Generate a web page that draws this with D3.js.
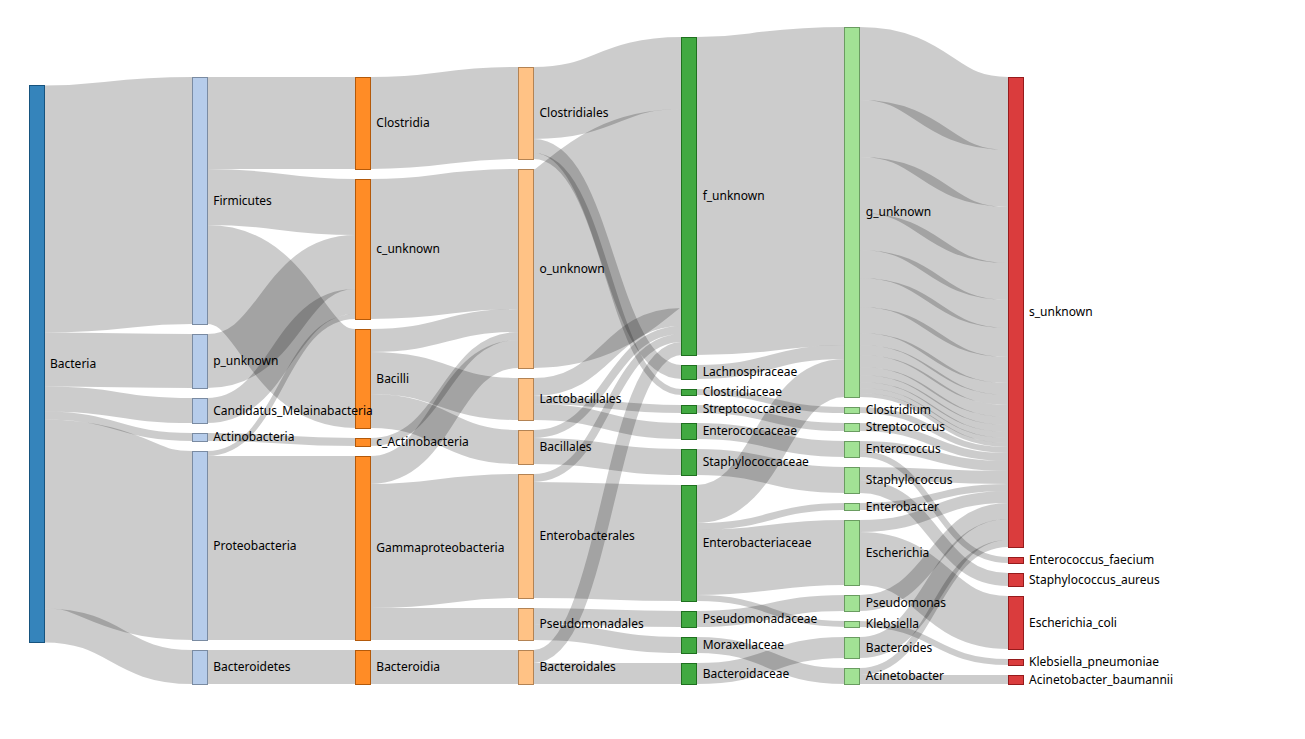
<!DOCTYPE html>
<html>
<head>
<meta charset="utf-8">
<script src="https://cdn.jsdelivr.net/npm/d3@7"></script>
<style>
  body { margin: 0; background: #fff; }
  .link { fill: none; stroke: #000; stroke-opacity: .2; }
  .node rect { fill-opacity: .9; shape-rendering: crispEdges; }
  .label { font: 12px "Noto Sans", sans-serif; fill: #000; }
</style>
</head>
<body>
<svg id="sankey" width="1305" height="739"></svg>
<script>
// taxonomy levels, top to bottom as drawn
const kingdoms = ["Bacteria"];
const phyla = ["Firmicutes", "p_unknown", "Candidatus_Melainabacteria", "Actinobacteria", "Proteobacteria", "Bacteroidetes"];
const classes = ["Clostridia", "c_unknown", "Bacilli", "c_Actinobacteria", "Gammaproteobacteria", "Bacteroidia"];
const orders = ["Clostridiales", "o_unknown", "Lactobacillales", "Bacillales", "Enterobacterales", "Pseudomonadales", "Bacteroidales"];
const families = ["f_unknown", "Lachnospiraceae", "Clostridiaceae", "Streptococcaceae", "Enterococcaceae", "Staphylococcaceae",
                  "Enterobacteriaceae", "Pseudomonadaceae", "Moraxellaceae", "Bacteroidaceae"];
const genera = ["g_unknown", "Clostridium", "Streptococcus", "Enterococcus", "Staphylococcus", "Enterobacter",
                "Escherichia", "Pseudomonas", "Klebsiella", "Bacteroides", "Acinetobacter"];
const species = ["s_unknown", "Enterococcus_faecium", "Staphylococcus_aureus", "Escherichia_coli",
                 "Klebsiella_pneumoniae", "Acinetobacter_baumannii"];

// flows [source, target, value]
const kingdomToPhylum = [
  ["Bacteria", "Firmicutes", 247], ["Bacteria", "p_unknown", 54], ["Bacteria", "Candidatus_Melainabacteria", 25],
  ["Bacteria", "Actinobacteria", 8], ["Bacteria", "Proteobacteria", 189], ["Bacteria", "Bacteroidetes", 34]
];
const phylumToClass = [
  ["Firmicutes", "Clostridia", 92], ["Firmicutes", "c_unknown", 56], ["Firmicutes", "Bacilli", 99],
  ["p_unknown", "c_unknown", 54], ["Candidatus_Melainabacteria", "c_unknown", 25],
  ["Actinobacteria", "c_Actinobacteria", 8], ["Proteobacteria", "c_unknown", 5],
  ["Proteobacteria", "Gammaproteobacteria", 184], ["Bacteroidetes", "Bacteroidia", 34]
];
const classToOrder = [
  ["Clostridia", "Clostridiales", 92], ["c_unknown", "o_unknown", 140],
  ["Bacilli", "o_unknown", 23], ["Bacilli", "Lactobacillales", 42], ["Bacilli", "Bacillales", 34],
  ["c_Actinobacteria", "o_unknown", 8], ["Gammaproteobacteria", "o_unknown", 28],
  ["Gammaproteobacteria", "Enterobacterales", 124], ["Gammaproteobacteria", "Pseudomonadales", 32],
  ["Bacteroidia", "Bacteroidales", 34]
];
const orderToFamily = [
  ["Clostridiales", "f_unknown", 72], ["Clostridiales", "Lachnospiraceae", 14], ["Clostridiales", "Clostridiaceae", 6],
  ["o_unknown", "f_unknown", 199],
  ["Lactobacillales", "f_unknown", 18], ["Lactobacillales", "Streptococcaceae", 8], ["Lactobacillales", "Enterococcaceae", 16],
  ["Bacillales", "f_unknown", 8], ["Bacillales", "Staphylococcaceae", 26],
  ["Enterobacterales", "f_unknown", 8], ["Enterobacterales", "Enterobacteriaceae", 116],
  ["Pseudomonadales", "Pseudomonadaceae", 16], ["Pseudomonadales", "Moraxellaceae", 16],
  ["Bacteroidales", "f_unknown", 13], ["Bacteroidales", "Bacteroidaceae", 21]
];
const familyToGenus = [
  ["f_unknown", "g_unknown", 318], ["Lachnospiraceae", "g_unknown", 14], ["Clostridiaceae", "Clostridium", 6],
  ["Streptococcaceae", "Streptococcus", 8], ["Enterococcaceae", "Enterococcus", 16],
  ["Staphylococcaceae", "Staphylococcus", 26],
  ["Enterobacteriaceae", "g_unknown", 38], ["Enterobacteriaceae", "Enterobacter", 7],
  ["Enterobacteriaceae", "Escherichia", 65], ["Enterobacteriaceae", "Klebsiella", 6],
  ["Pseudomonadaceae", "Pseudomonas", 16], ["Moraxellaceae", "Acinetobacter", 16],
  ["Bacteroidaceae", "Bacteroides", 21]
];
// g_unknown -> s_unknown comes as several separate records
const gUnknownParts = [73, 57, 56, 37, 28, 29, 26, 12, 10, 12, 8, 7, 6, 5, 4];
const genusToSpecies = [
  ["Clostridium", "s_unknown", 6], ["Streptococcus", "s_unknown", 8],
  ["Enterococcus", "s_unknown", 10], ["Enterococcus", "Enterococcus_faecium", 6],
  ["Staphylococcus", "s_unknown", 13], ["Staphylococcus", "Staphylococcus_aureus", 13],
  ["Enterobacter", "s_unknown", 7], ["Escherichia", "s_unknown", 12], ["Escherichia", "Escherichia_coli", 53],
  ["Pseudomonas", "s_unknown", 16], ["Klebsiella", "Klebsiella_pneumoniae", 6],
  ["Bacteroides", "s_unknown", 21], ["Acinetobacter", "s_unknown", 7], ["Acinetobacter", "Acinetobacter_baumannii", 9]
];
const levelColors = ["#1f77b4", "#aec7e8", "#ff7f0e", "#ffbb78", "#2ca02c", "#98df8a", "#d62728"];

const margin = {top: 27, left: 29};
const width = 994, height = 657;
const nodeWidth = 15, nodePadding = 10;

const nodes = [].concat(kingdoms, phyla, classes, orders, families, genera, species).map(name => ({name}));
const links = [].concat(
  kingdomToPhylum, phylumToClass, classToOrder, orderToFamily, familyToGenus,
  gUnknownParts.map(v => ["g_unknown", "s_unknown", v]),
  genusToSpecies
).map(([source, target, value]) => ({source, target, value}));

// small sankey layout (d3-sankey is not part of d3 v7), nodes keep their order in a column
function sankeyLayout(nodes, links, iterations) {
  const byName = new Map(nodes.map(n => [n.name, n]));
  nodes.forEach(n => { n.sourceLinks = []; n.targetLinks = []; });
  links.forEach(l => {
    l.source = byName.get(l.source);
    l.target = byName.get(l.target);
    l.source.sourceLinks.push(l);
    l.target.targetLinks.push(l);
  });
  nodes.forEach(n => {
    n.value = Math.max(d3.sum(n.sourceLinks, l => l.value), d3.sum(n.targetLinks, l => l.value));
  });

  let remaining = nodes.filter(n => !n.targetLinks.length), x = 0;
  while (remaining.length) {
    const next = new Set();
    remaining.forEach(n => { n.depth = x; n.sourceLinks.forEach(l => next.add(l.target)); });
    remaining = Array.from(next);
    ++x;
  }
  nodes.forEach(n => { if (!n.sourceLinks.length) n.depth = x - 1; });
  const kx = (width - nodeWidth) / (x - 1);
  nodes.forEach(n => { n.x = n.depth * kx; n.dx = nodeWidth; });

  const columns = d3.groups(nodes, n => n.depth).sort((a, b) => a[0] - b[0]).map(g => g[1]);
  const ky = d3.min(columns, c => (height - (c.length - 1) * nodePadding) / d3.sum(c, n => n.value));
  columns.forEach(c => c.forEach((n, i) => { n.y = i; n.dy = n.value * ky; }));
  links.forEach(l => { l.dy = l.value * ky; });

  const center = n => n.y + n.dy / 2;

  function resolveCollisions() {
    columns.forEach(col => {
      let y0 = 0, node, dy;
      for (let i = 0; i < col.length; ++i) {
        node = col[i];
        dy = y0 - node.y;
        if (dy > 0) node.y += dy;
        y0 = node.y + node.dy + nodePadding;
      }
      dy = y0 - nodePadding - height;
      if (dy > 0) {
        y0 = node.y -= dy;
        for (let i = col.length - 2; i >= 0; --i) {
          node = col[i];
          dy = node.y + node.dy + nodePadding - y0;
          if (dy > 0) node.y -= dy;
          y0 = node.y;
        }
      }
    });
  }

  function relaxLeftToRight(alpha) {
    columns.forEach(col => col.forEach(n => {
      if (n.targetLinks.length) {
        const y = d3.sum(n.targetLinks, l => center(l.source) * l.value) / d3.sum(n.targetLinks, l => l.value);
        n.y += (y - center(n)) * alpha;
      }
    }));
  }

  function relaxRightToLeft(alpha) {
    columns.slice().reverse().forEach(col => col.forEach(n => {
      if (n.sourceLinks.length) {
        const y = d3.sum(n.sourceLinks, l => center(l.target) * l.value) / d3.sum(n.sourceLinks, l => l.value);
        n.y += (y - center(n)) * alpha;
      }
    }));
  }

  resolveCollisions();
  for (let alpha = 1; iterations > 0; --iterations) {
    relaxRightToLeft(alpha *= .99);
    resolveCollisions();
    relaxLeftToRight(alpha);
    resolveCollisions();
  }

  nodes.forEach(n => {
    n.sourceLinks.sort((a, b) => a.target.y - b.target.y);
    n.targetLinks.sort((a, b) => a.source.y - b.source.y);
  });
  nodes.forEach(n => {
    let sy = 0, ty = 0;
    n.sourceLinks.forEach(l => { l.sy = sy; sy += l.dy; });
    n.targetLinks.forEach(l => { l.ty = ty; ty += l.dy; });
  });
}

sankeyLayout(nodes, links, 32);

const color = d3.scaleOrdinal().domain(d3.range(levelColors.length)).range(levelColors);

const svg = d3.select("#sankey");
const g = svg.append("g").attr("transform", `translate(${margin.left},${margin.top})`);

const linkPath = d3.linkHorizontal()
  .source(d => [d.source.x + d.source.dx, d.source.y + d.sy + d.dy / 2])
  .target(d => [d.target.x, d.target.y + d.ty + d.dy / 2]);

g.append("g")
  .selectAll("path")
  .data(links)
  .enter()
  .append("path")
  .attr("class", "link")
  .attr("d", linkPath)
  .attr("stroke-width", d => Math.max(1, d.dy));

const node = g.append("g")
  .selectAll("g")
  .data(nodes)
  .enter()
  .append("g")
  .attr("class", "node")
  .attr("transform", d => `translate(${d.x},${d.y})`);

node.append("rect")
  .attr("width", d => d.dx)
  .attr("height", d => d.dy)
  .attr("fill", d => color(d.depth))
  .attr("stroke", d => d3.rgb(color(d.depth)).darker(1));

g.append("g")
  .selectAll("text")
  .data(nodes)
  .enter()
  .append("text")
  .attr("class", "label")
  .attr("x", d => d.x + d.dx + 6)
  .attr("y", d => d.y + d.dy / 2)
  .attr("dy", ".35em")
  .text(d => d.name);
</script>
</body>
</html>
